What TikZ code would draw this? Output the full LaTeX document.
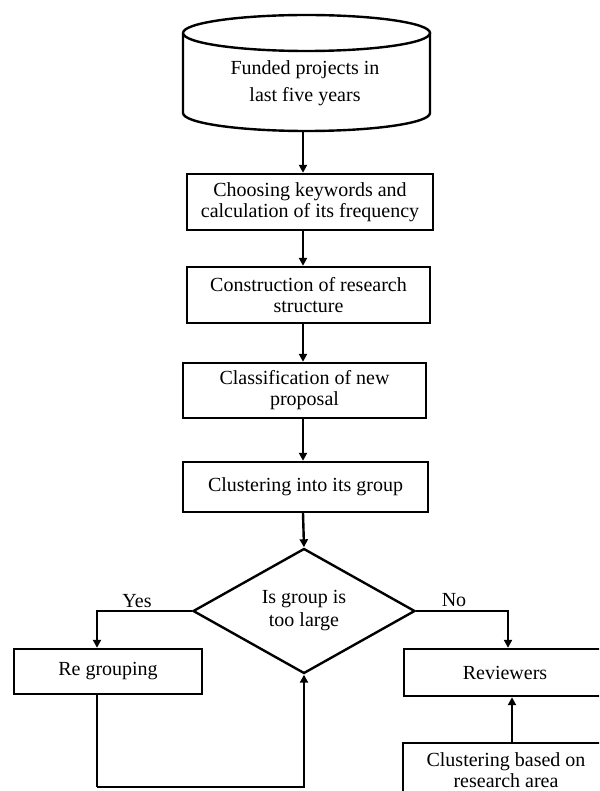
\documentclass[tikz,border=0pt]{standalone}
\usepackage{fontspec}
\setmainfont{Liberation Serif}
\usetikzlibrary{arrows.meta,shapes.geometric}
\begin{document}
\begin{tikzpicture}[x=1pt,y=-1pt,
  every node/.style={font=\fontsize{20}{21}\selectfont, align=center},
  box/.style={draw, line width=2.4pt, inner sep=0pt},
  line/.style={line width=2.4pt},
  arr/.style={line width=2.4pt, -{Triangle[length=8pt,width=8pt]}},
  lbl/.style={inner sep=0pt}]
\useasboundingbox (0,0) rectangle (599,791);
\clip (0,0) rectangle (599,791);
% cylinder
\draw[line] (183,33) arc[start angle=180, end angle=-180, x radius=123.5, y radius=18];
\draw[line] (183,33) -- (183,113) arc[start angle=180, end angle=0, x radius=123.5, y radius=18] -- (430,33);
\node[lbl, font=\fontsize{20}{27}\selectfont] (cyl) at (305,83.5) {Funded projects in\\last five years};
\coordinate (cylb) at (303,131);
\coordinate (ax) at (303,0);
% boxes
\node[box, minimum width=246pt, minimum height=56pt] (b1) at (310,202) {Choosing keywords and\\calculation of its frequency};
\node[box, minimum width=243pt, minimum height=56pt] (b2) at (308.5,295) {Construction of research\\structure};
\node[box, minimum width=243pt, minimum height=55pt] (b3) at (304.5,390.5) {Classification of new\\proposal};
\node[box, minimum width=245pt, minimum height=50pt] (b4) at (305.5,487) {Clustering into its group};
\node[diamond, draw, line width=2.4pt, inner sep=0pt, minimum width=222pt, minimum height=113pt,
  font=\fontsize{20}{23}\selectfont] (dia) at (304,611) {Is group is\\too large};
\node[box, minimum width=188pt, minimum height=45pt] (reg) at (108,671.5) {Re grouping};
\node[box, minimum width=202pt, minimum height=47pt] (rev) at (505,672.5) {Reviewers};
\node[box, minimum width=206pt, minimum height=54pt] (clu) at (506,770) {Clustering based on\\research area};
% connectors
\draw[arr] (cylb) -- (b1.north -| ax);
\draw[arr] (b1.south -| ax) -- (b2.north -| ax);
\draw[arr] (b2.south -| ax) -- (b3.north -| ax);
\draw[arr] (b3.south -| ax) -- (b4.north -| ax);
\draw[arr] (b4.south -| ax) -- (dia.north);
\coordinate (yx) at (97,0);
\coordinate (nx) at (508,0);
\coordinate (lp) at (97,787);
\coordinate (cx) at (512,0);
\draw[arr] (dia.west) -| (reg.north -| yx);
\draw[arr] (dia.east) -| (rev.north -| nx);
\draw[line] (reg.south -| yx) -- (lp);
\draw[arr] (lp) -| (dia.south);
\draw[arr] (clu.north -| cx) -- (rev.south -| cx);
\node[lbl] (yes) at (137,601) {Yes};
\node[lbl] (no) at (454,600) {No};
\end{tikzpicture}
\end{document}
